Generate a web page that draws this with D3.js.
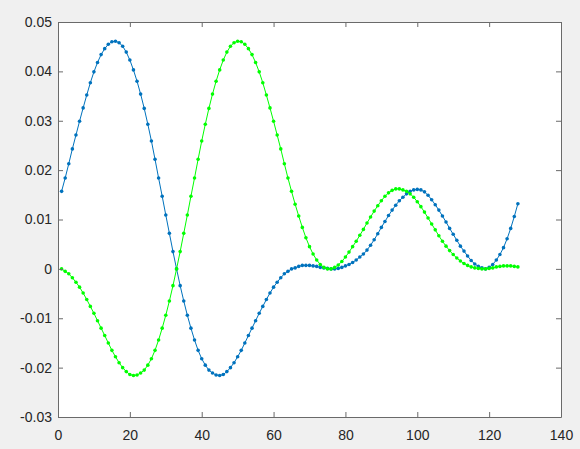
<!DOCTYPE html>
<html>
<head>
<meta charset="utf-8">
<script src="https://d3js.org/d3.v7.min.js"></script>
<style>
  body { margin: 0; background: #f0f0f0; }
  svg { display: block; }
  .tick text { font-family: "Liberation Sans", Arial, sans-serif; font-size: 14px; fill: #262626; }
</style>
</head>
<body>
<script>
// series values, one per sample (sample 1..128)
var blueValues = [
  0.0157, 0.0184, 0.0213, 0.0243, 0.0271, 0.0299, 0.0326, 0.0352, 0.0377, 0.0399,
  0.0418, 0.0434, 0.0446, 0.0455, 0.0460, 0.0461, 0.0458, 0.0451, 0.0439, 0.0423,
  0.0403, 0.0380, 0.0354, 0.0325, 0.0293, 0.0259, 0.0222, 0.0184, 0.0147, 0.0109,
  0.0072, 0.0035, 0.0000, -0.0034, -0.0065, -0.0094, -0.0120, -0.0144, -0.0165, -0.0182,
  -0.0195, -0.0205, -0.0211, -0.0215, -0.0216, -0.0214, -0.0208, -0.0200, -0.0190, -0.0178,
  -0.0165, -0.0150, -0.0135, -0.0120, -0.0105, -0.0090, -0.0076, -0.0062, -0.0049, -0.0037,
  -0.0027, -0.0018, -0.0010, -0.0005, 0.0000, 0.0002, 0.0005, 0.0007, 0.0007, 0.0007,
  0.0006, 0.0005, 0.0003, 0.0002, 0.0001, 0.0000, 0.0000, 0.0001, 0.0003, 0.0006,
  0.0009, 0.0013, 0.0018, 0.0024, 0.0030, 0.0038, 0.0048, 0.0059, 0.0071, 0.0084,
  0.0096, 0.0108, 0.0119, 0.0129, 0.0138, 0.0145, 0.0152, 0.0157, 0.0160, 0.0161,
  0.0160, 0.0156, 0.0149, 0.0140, 0.0130, 0.0119, 0.0107, 0.0095, 0.0082, 0.0070,
  0.0058, 0.0046, 0.0036, 0.0026, 0.0017, 0.0010, 0.0005, 0.0002, 0.0000, 0.0003,
  0.0009, 0.0018, 0.0029, 0.0043, 0.0061, 0.0082, 0.0106, 0.0132
];

var greenValues = [
  0.0000, -0.0005, -0.0010, -0.0018, -0.0027, -0.0037, -0.0049, -0.0062, -0.0076, -0.0090,
  -0.0105, -0.0120, -0.0135, -0.0150, -0.0165, -0.0178, -0.0190, -0.0200, -0.0208, -0.0214,
  -0.0216, -0.0215, -0.0211, -0.0205, -0.0195, -0.0182, -0.0165, -0.0144, -0.0120, -0.0094,
  -0.0065, -0.0034, 0.0000, 0.0035, 0.0072, 0.0109, 0.0147, 0.0184, 0.0222, 0.0259,
  0.0293, 0.0325, 0.0354, 0.0380, 0.0403, 0.0423, 0.0439, 0.0451, 0.0458, 0.0461,
  0.0460, 0.0455, 0.0446, 0.0434, 0.0418, 0.0399, 0.0377, 0.0352, 0.0326, 0.0299,
  0.0271, 0.0243, 0.0213, 0.0184, 0.0157, 0.0131, 0.0107, 0.0084, 0.0063, 0.0045,
  0.0030, 0.0018, 0.0009, 0.0003, 0.0000, 0.0000, 0.0003, 0.0008, 0.0015, 0.0024,
  0.0034, 0.0045, 0.0056, 0.0068, 0.0080, 0.0093, 0.0105, 0.0117, 0.0128, 0.0138,
  0.0147, 0.0154, 0.0159, 0.0162, 0.0162, 0.0160, 0.0157, 0.0152, 0.0145, 0.0136,
  0.0126, 0.0115, 0.0103, 0.0091, 0.0079, 0.0067, 0.0056, 0.0046, 0.0037, 0.0029,
  0.0022, 0.0016, 0.0011, 0.0007, 0.0004, 0.0002, 0.0001, 0.0000, 0.0000, 0.0001,
  0.0002, 0.0004, 0.0005, 0.0006, 0.0006, 0.0006, 0.0005, 0.0004
];

var xTicks = [0, 20, 40, 60, 80, 100, 120, 140];
var yTicks = [-0.03, -0.02, -0.01, 0, 0.01, 0.02, 0.03, 0.04, 0.05];
var yTickLabels = ["-0.03", "-0.02", "-0.01", "0", "0.01", "0.02", "0.03", "0.04", "0.05"];

var width = 580, height = 449;
var box = { left: 58, right: 561, top: 22, bottom: 417 };

var svg = d3.select("body").append("svg")
   .attr("width", width)
   .attr("height", height);

svg.append("rect")
  .attr("width", width)
  .attr("height", height)
  .style("fill", "#f0f0f0");

var x = d3.scaleLinear().domain([0, 140]).range([box.left, box.right]);
var y = d3.scaleLinear().domain([-0.03, 0.05]).range([box.bottom, box.top]);

svg.append("rect")
  .attr("x", box.left)
  .attr("y", box.top)
  .attr("width", box.right - box.left)
  .attr("height", box.bottom - box.top)
  .style("fill", "#fff");

function toPoints(values) {
  return values.map(function(v, i) { return { x: i + 1, y: v }; });
}

function drawSeries(values, color) {
  var pts = toPoints(values);
  var line = d3.line()
    .x(function(d) { return x(d.x); })
    .y(function(d) { return y(d.y); });

  var g = svg.append("g");
  g.append("path")
    .datum(pts)
    .attr("d", line)
    .style("fill", "none")
    .style("stroke", color)
    .style("stroke-width", 1);

  g.selectAll("circle")
    .data(pts)
    .enter()
    .append("circle")
    .attr("cx", function(d) { return x(d.x); })
    .attr("cy", function(d) { return y(d.y); })
    .attr("r", 1.8)
    .style("fill", color);
}

drawSeries(blueValues, "#0072bd");
drawSeries(greenValues, "#00ff00");

// axes, MATLAB style: box on, ticks pointing inward
function styleAxis(g) {
  g.selectAll("path, line").style("stroke", "#6a6a6a").style("stroke-width", 1);
}

svg.append("g")
  .attr("transform", "translate(0," + box.bottom + ")")
  .call(d3.axisBottom(x).tickValues(xTicks).tickSizeInner(-5).tickSizeOuter(0).tickPadding(13))
  .call(styleAxis);

svg.append("g")
  .attr("transform", "translate(0," + box.top + ")")
  .call(d3.axisTop(x).tickValues(xTicks).tickFormat("").tickSizeInner(-5).tickSizeOuter(0))
  .call(styleAxis);

svg.append("g")
  .attr("transform", "translate(" + box.left + ",0)")
  .call(d3.axisLeft(y).tickValues(yTicks)
    .tickFormat(function(d, i) { return yTickLabels[i]; })
    .tickSizeInner(-5).tickSizeOuter(0).tickPadding(6))
  .call(styleAxis);

svg.append("g")
  .attr("transform", "translate(" + box.right + ",0)")
  .call(d3.axisRight(y).tickValues(yTicks).tickFormat("").tickSizeInner(-5).tickSizeOuter(0))
  .call(styleAxis);

svg.selectAll(".domain").style("stroke", "#6a6a6a");
</script>
</body>
</html>
